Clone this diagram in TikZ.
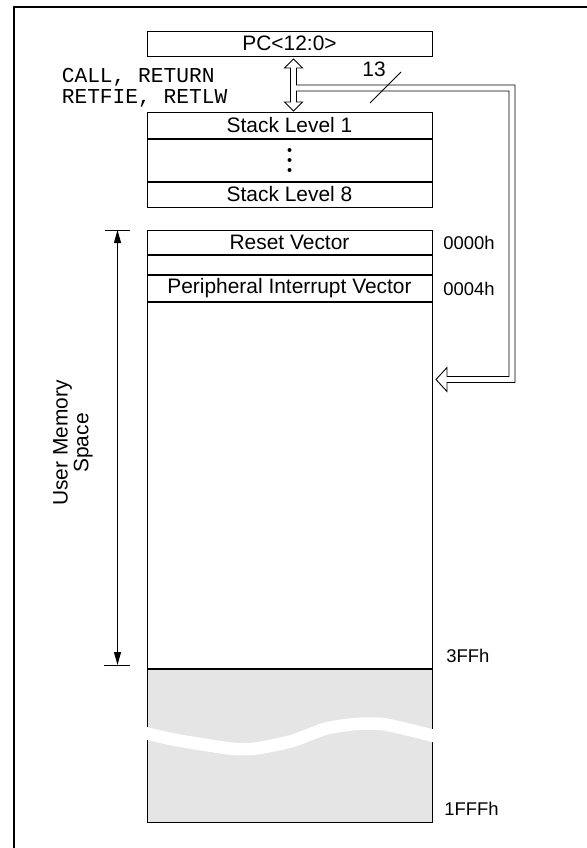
\documentclass[tikz,border=0pt]{standalone}
\usepackage{fontspec}
\setmainfont{Liberation Sans}
\newfontfamily\monofont{Liberation Mono}
\usetikzlibrary{arrows.meta,positioning}
\begin{document}
\begin{tikzpicture}[x=1bp, y=-1bp, semithick,
  row/.style = {draw, line width=1bp, rectangle, minimum width=285bp, inner sep=0pt, font=\fontsize{21}{24}\selectfont},
  addr/.style = {anchor=west, inner sep=0pt, font=\fontsize{18.5}{20}\selectfont},
  hollow/.style = {draw, fill=white, line width=0.9bp, line join=miter}]
\useasboundingbox (0,0) rectangle (587,848);
\draw[line width=2.3bp] (13.8,848) -- (13.8,7) -- (587,7);
% program counter and stack
\node[row, minimum height=25bp] (pc) at (289.5,43.5) {PC<12:0>};
\node[row, minimum height=26bp] (s1) at (289.5,125) {Stack Level 1};
\node[row, minimum height=42bp, below=0pt of s1] (sd) {};
\node[row, minimum height=25bp, below=0pt of sd] (s8) {Stack Level 8};
\fill (sd.center) ++(0,-10) circle (2bp) ++(0,10) circle (2bp) ++(0,10) circle (2bp);
\node[anchor=west, align=left, inner sep=0pt, font=\monofont\fontsize{21.3}{21}\selectfont] (instr) at (61.5,87.5) {CALL, RETURN\\RETFIE, RETLW};
% program memory
\node[row, minimum height=24bp] (reset) at (289.5,242) {Reset Vector};
\node[row, minimum height=19bp, below=0pt of reset] (gap) {};
\node[row, minimum height=26bp, below=0pt of gap] (piv) {Peripheral Interrupt Vector};
\node[row, minimum height=366bp, below=0pt of piv] (user) {};
\node[row, minimum height=153bp, fill=black!10, below=0pt of user] (ext) {};
\draw[white, line width=12.5bp] plot[smooth, tension=0.4] coordinates {(138,732) (147,733.5) (176,740) (230,748.5) (256,748.5) (292,741) (326,728.5) (356,724) (382,724) (410,730) (434,736) (444,739)};
\node[addr] (a0) at (443,242.5) {0000h};
\node[addr] (a4) at (443,289) {0004h};
\node[addr] (a3ff) at (446,656) {3FFh};
\node[addr] (a1fff) at (444,809) {1FFFh};
% user memory space
\coordinate (utop) at (117.5,230);
\coordinate (ubot) at (117.5,665);
\draw[line width=1bp] ([xshift=-12.5bp]utop) -- ([xshift=12bp]utop);
\draw[line width=1bp] ([xshift=-13.5bp]ubot) -- ([xshift=12bp]ubot);
\draw[line width=1bp, {Triangle[length=13bp,width=7bp]}-{Triangle[length=13bp,width=7bp]}] (utop) -- (ubot);
\node[rotate=90, align=center, inner sep=0pt, font=\fontsize{21}{21}\selectfont] (ums) at (73,443) {User Memory\\Space};
% stack bus and return path
\coordinate (ptip) at (293.5,59);
\coordinate (stip) at (293.5,111);
\coordinate (mtip) at (436,379.5);
\draw[hollow] (296.5,85) -- (296.5,68) -- (302.5,68) -- (ptip) -- (284.5,68) -- (290.5,68)
  -- (290.5,102) -- (284.5,102) -- (stip) -- (302.5,102) -- (296.5,102) -- (296.5,91)
  -- (509,91) -- (509,376.5) -- (447,376.5) -- (447,367.5) -- (mtip) -- (447,391.5)
  -- (447,382.5) -- (515,382.5) -- (515,85) -- cycle;
\node[font=\fontsize{21}{24}\selectfont, inner sep=0pt] (w) at (374,69.5) {13};
\draw[line width=0.8bp] (370,103) -- (401,72);
\end{tikzpicture}
\end{document}
